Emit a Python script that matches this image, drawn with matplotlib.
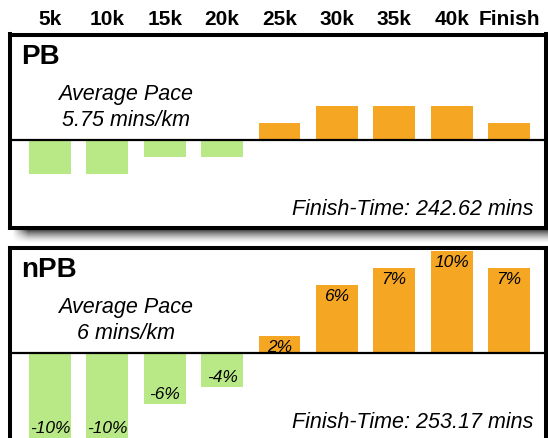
import numpy as np
import matplotlib.pyplot as plt

plt.rcParams['font.family'] = ['Liberation Sans', 'DejaVu Sans']

# data: split paces relative to the average (bar units), plus the printed labels
splits = ['5k', '10k', '15k', '20k', '25k', '30k', '35k', '40k', 'Finish']
pb_values = [-2, -2, -1, -1, 1, 2, 2, 2, 1]
npb_values = [-5, -5, -3, -2, 1, 4, 5, 6, 5]
npb_labels = ['-10%', '-10%', '-6%', '-4%', '2%', '6%', '7%', '10%', '7%']
runs = ['PB', 'nPB']
avg_pace = ['5.75 mins/km', '6 mins/km']
finish_time = ['242.62 mins', '253.17 mins']

ORANGE = '#F5A623'
GREEN = '#B8E986'

W, H = 548, 438
fig = plt.figure(figsize=(W / 100, H / 100), dpi=100)
fig.patch.set_facecolor('white')


def fx(x):
    return x / W


def fy(y):
    return 1 - y / H


# panel boxes in pixel coords (left, top, right, bottom)
boxes = [(10, 34.5, 545.5, 228), (10, 247.5, 545.5, 441)]
x = np.arange(len(splits))

# drop shadow under the first panel
sh = fig.add_axes([fx(12), fy(244), fx(548 - 12), (244 - 229.5) / H], zorder=0)
sh.axis('off')
ny, nx = 40, 540
vy = np.linspace(1, 0, ny)[:, None] ** 1.6
hx = np.clip(np.linspace(0, 540 / 16, nx), 0, 1)[None, :]
rgba = np.zeros((ny, nx, 4))
rgba[..., 3] = 0.8 * vy * hx
sh.imshow(rgba, aspect='auto', extent=(0, 1, 0, 1))

axes = []
for i, (l, t, r, b) in enumerate(boxes):
    ax = fig.add_axes([fx(l), fy(b), (r - l) / W, (b - t) / H], zorder=2)
    vals = pb_values if i == 0 else npb_values
    cols = [ORANGE if v > 0 else GREEN for v in vals]
    ax.bar(x, vals, width=0.73, color=cols, zorder=1)
    ax.axhline(0, color='black', lw=1.6, zorder=3)
    ax.set_xlim(-0.697, 8.636)
    ax.set_ylim(-5.17, 6.2)
    ax.set_xticks([])
    ax.set_yticks([])
    for s in ax.spines.values():
        s.set_linewidth(2.9)
        s.set_color('black')
    ax.set_facecolor('white')
    axes.append(ax)

    fig.text(fx(21), fy(t + 29.5), runs[i], fontsize=20, fontweight='bold',
             ha='left', va='baseline')
    fig.text(fx(126), fy(t + 65.5), 'Average Pace', fontsize=15.5,
             style='italic', ha='center', va='baseline')
    fig.text(fx(126), fy(t + 91.5), avg_pace[i], fontsize=15.5,
             style='italic', ha='center', va='baseline')
    fig.text(fx(533), fy(t + 180), 'Finish-Time: ' + finish_time[i],
             fontsize=15.5, style='italic', ha='right', va='baseline')

# percentage labels inside the nPB bars
ax = axes[1]
for xi, v, lab in zip(x, npb_values, npb_labels):
    off = -8.6 if v > 0 else 7.2
    ax.annotate(lab, (xi, v), xytext=(0, off), textcoords='offset points',
                ha='center', va='center', fontsize=12.5, style='italic', zorder=4)

# split headers along the top, centred over the bars
for xi, name in zip(x, splits):
    fig.text(fx(50 + xi * 57.375), fy(25), name, fontsize=15,
             fontweight='bold', ha='center', va='baseline')

fig.savefig('out.png', dpi=100)
